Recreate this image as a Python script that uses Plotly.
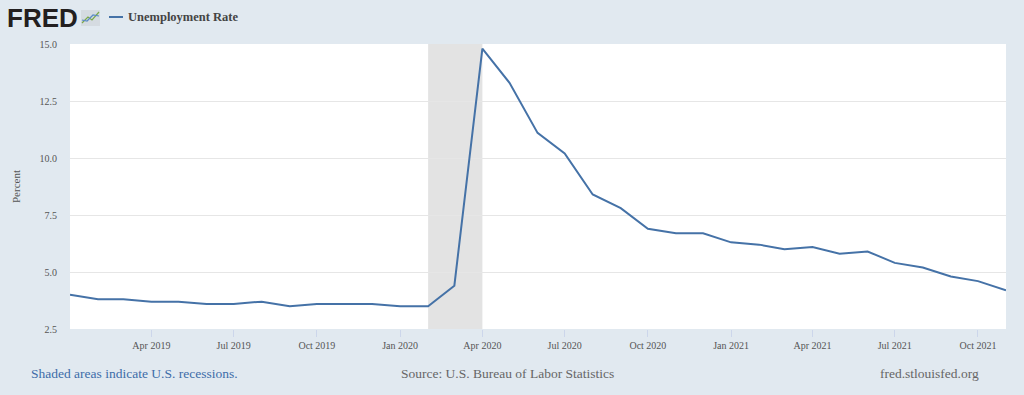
import plotly.graph_objects as go

dates = ["2019-01-01", "2019-02-01", "2019-03-01", "2019-04-01", "2019-05-01", "2019-06-01",
         "2019-07-01", "2019-08-01", "2019-09-01", "2019-10-01", "2019-11-01", "2019-12-01",
         "2020-01-01", "2020-02-01", "2020-03-01", "2020-04-01", "2020-05-01", "2020-06-01",
         "2020-07-01", "2020-08-01", "2020-09-01", "2020-10-01", "2020-11-01", "2020-12-01",
         "2021-01-01", "2021-02-01", "2021-03-01", "2021-04-01", "2021-05-01", "2021-06-01",
         "2021-07-01", "2021-08-01", "2021-09-01", "2021-10-01", "2021-11-01"]
unrate = [4.0, 3.8, 3.8, 3.7, 3.7, 3.6,
          3.6, 3.7, 3.5, 3.6, 3.6, 3.6,
          3.5, 3.5, 4.4, 14.8, 13.3, 11.1,
          10.2, 8.4, 7.8, 6.9, 6.7, 6.7,
          6.3, 6.2, 6.0, 6.1, 5.8, 5.9,
          5.4, 5.2, 4.8, 4.6, 4.2]
tick_dates = ["2019-04-01", "2019-07-01", "2019-10-01", "2020-01-01", "2020-04-01",
              "2020-07-01", "2020-10-01", "2021-01-01", "2021-04-01", "2021-07-01", "2021-10-01"]
tick_labels = ["Apr 2019", "Jul 2019", "Oct 2019", "Jan 2020", "Apr 2020",
               "Jul 2020", "Oct 2020", "Jan 2021", "Apr 2021", "Jul 2021", "Oct 2021"]
y_ticks = [2.5, 5.0, 7.5, 10.0, 12.5, 15.0]
recession_start = "2020-02-01"
recession_end = "2020-04-01"
series_name = "Unemployment Rate"

SERIF = "Georgia, 'Liberation Serif', 'DejaVu Serif', serif"
LINE = "#4572a7"
BG = "#e1e9f0"

def px(x):
    return (x - 70) / 936

def py(y):
    return (329 - y) / 285

fig = go.Figure()
fig.add_trace(go.Scatter(x=dates, y=unrate, mode="lines", name=series_name,
                         line=dict(color=LINE, width=2), showlegend=False))

fig.add_shape(type="rect", xref="x", yref="paper", x0=recession_start, x1=recession_end,
              y0=0, y1=1, fillcolor="#e3e3e3", line=dict(width=0), layer="below")

# legend sample line and label
fig.add_shape(type="line", xref="paper", yref="paper",
              x0=px(109), x1=px(123), y0=py(17), y1=py(17),
              line=dict(color=LINE, width=2))
fig.add_annotation(text="<b>" + series_name + "</b>", xref="paper", yref="paper",
                   x=px(126), y=py(17), xanchor="left", yanchor="middle",
                   showarrow=False, font=dict(family=SERIF, size=12.5, color="#444444"))

# FRED logo text
fig.add_annotation(text="<b>FRED</b>", xref="paper", yref="paper",
                   x=px(5), y=py(18), xanchor="left", yanchor="middle",
                   showarrow=False,
                   font=dict(family="'Liberation Sans', Arial, sans-serif", size=26, color="#231f20"))
# small logo icon
fig.add_shape(type="rect", xref="paper", yref="paper",
              x0=px(81), x1=px(100), y0=py(26), y1=py(10),
              fillcolor="#d5dbe1", line=dict(width=0))
fig.add_shape(type="path", xref="paper", yref="paper",
              path="M {:.4f},{:.4f} L {:.4f},{:.4f} L {:.4f},{:.4f} L {:.4f},{:.4f}".format(
                  px(82), py(23), px(88), py(17), px(92), py(20), px(99), py(12)),
              line=dict(color="#7aa84a", width=1.2))
fig.add_shape(type="path", xref="paper", yref="paper",
              path="M {:.4f},{:.4f} L {:.4f},{:.4f} L {:.4f},{:.4f} L {:.4f},{:.4f}".format(
                  px(82), py(20), px(87), py(21), px(93), py(15), px(99), py(16)),
              line=dict(color="#5b8bc4", width=1.2))

# footer
fig.add_annotation(text="Shaded areas indicate U.S. recessions.", xref="paper", yref="paper",
                   x=px(29), y=py(373), xanchor="left", yanchor="middle",
                   showarrow=False, font=dict(family=SERIF, size=13.5, color="#3d6ca8"))
fig.add_annotation(text="Source: U.S. Bureau of Labor Statistics", xref="paper", yref="paper",
                   x=px(507), y=py(373), xanchor="center", yanchor="middle",
                   showarrow=False, font=dict(family=SERIF, size=13.5, color="#666666"))
fig.add_annotation(text="fred.stlouisfed.org", xref="paper", yref="paper",
                   x=px(981), y=py(373), xanchor="right", yanchor="middle",
                   showarrow=False, font=dict(family=SERIF, size=13.5, color="#666666"))

fig.update_layout(
    width=1024, height=395,
    margin=dict(l=70, r=18, t=44, b=66),
    paper_bgcolor=BG, plot_bgcolor="#ffffff",
    font=dict(family=SERIF, color="#555555"),
    xaxis=dict(type="date", range=[dates[0], dates[-1]],
               tickvals=tick_dates, ticktext=tick_labels,
               showgrid=False, zeroline=False, ticks="outside", ticklen=7,
               tickcolor="#ccd6eb", tickwidth=1, showline=False,
               tickfont=dict(family=SERIF, size=10, color="#555555")),
    yaxis=dict(range=[2.5, 15], tickvals=y_ticks, tickformat=".1f",
               showgrid=True, gridcolor="#e6e6e6", gridwidth=1, zeroline=False,
               ticks="", showline=False, ticklabelstandoff=12,
               tickfont=dict(family=SERIF, size=10, color="#555555"),
               title=dict(text="Percent", standoff=16,
                          font=dict(family=SERIF, size=11, color="#555555"))),
)

fig.write_html("out.html", config={"displayModeBar": False},
               post_script="document.body.style.margin='0';document.body.style.background='%s';" % BG)
